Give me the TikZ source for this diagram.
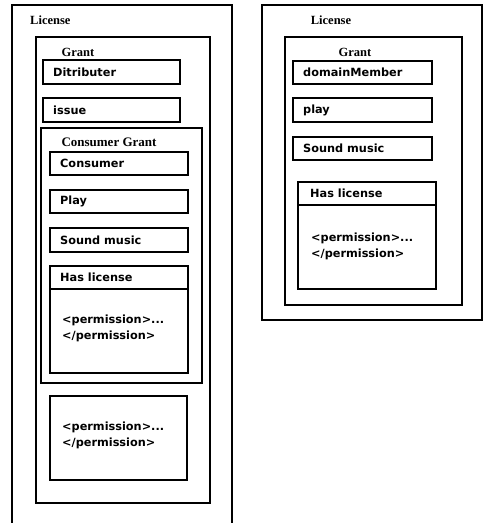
\documentclass[tikz,border=0pt]{standalone}
\usepackage{fontspec}
\setmainfont{Liberation Serif}
\newfontfamily\boxfont{DejaVu Sans}
\begin{document}
\begin{tikzpicture}[x=1pt,y=-1pt,
  frame/.style={draw=black,line width=1.8pt},
  lbl/.style={font=\fontsize{12.5}{13}\selectfont\bfseries,inner sep=0pt},
  txt/.style={font=\boxfont\fontsize{11.3}{13}\selectfont\bfseries,inner sep=0pt,anchor=west},
  ptxt/.style={font=\boxfont\fontsize{11.3}{15.5}\selectfont\bfseries,inner sep=0pt,anchor=north west,align=left}]
\useasboundingbox[fill=white] (0,0) rectangle (484,523);
% ---------- left panel ----------
\draw[frame] (12,523) -- (12,5) -- (232,5) -- (232,523);
\node[lbl,anchor=west] (licL) at (30,20) {License};
\draw[frame] (36,37) rectangle (210,503);
\node[lbl] (grantL) at (78,52) {Grant};
\draw[frame] (43,60) rectangle (180,84);
\node[txt] (dist) at (53,72) {Ditributer};
\draw[frame] (43,98) rectangle (180,122);
\node[txt] (issue) at (53,110) {issue};
\draw[frame] (41,128) rectangle (202,383);
\node[lbl,font=\fontsize{13}{14}\selectfont\bfseries] (cgrant) at (109,142) {Consumer Grant};
\draw[frame] (50,152) rectangle (188,175);
\node[txt] (cons) at (60,163.5) {Consumer};
\draw[frame] (50,190) rectangle (188,213);
\node[txt] (playL) at (60,201.5) {Play};
\draw[frame] (50,228) rectangle (188,252);
\node[txt] (soundL) at (60,240) {Sound music};
\draw[frame] (50,266) rectangle (188,373);
\draw[frame] (50,289) -- (188,289);
\node[txt] (hasL) at (60,277.5) {Has license};
\node[ptxt] (permL) at (62,315) {<permission>...\\</permission>};
\draw[frame] (50,396) rectangle (187,480);
\node[ptxt] (permB) at (62,422) {<permission>...\\</permission>};
% ---------- right panel ----------
\draw[frame] (262,5) rectangle (482,320);
\node[lbl] (licR) at (331,20) {License};
\draw[frame] (285,37) rectangle (462,305);
\node[lbl] (grantR) at (355,52) {Grant};
\draw[frame] (293,61) rectangle (432,84);
\node[txt] (dom) at (303,72.5) {domainMember};
\draw[frame] (293,98) rectangle (432,122);
\node[txt] (playR) at (303,110) {play};
\draw[frame] (293,137) rectangle (432,160);
\node[txt] (soundR) at (303,148.5) {Sound music};
\draw[frame] (298,182) rectangle (436,289);
\draw[frame] (298,205) -- (436,205);
\node[txt] (hasR) at (310,193.5) {Has license};
\node[ptxt] (permR) at (311,233) {<permission>...\\</permission>};
\end{tikzpicture}
\end{document}
